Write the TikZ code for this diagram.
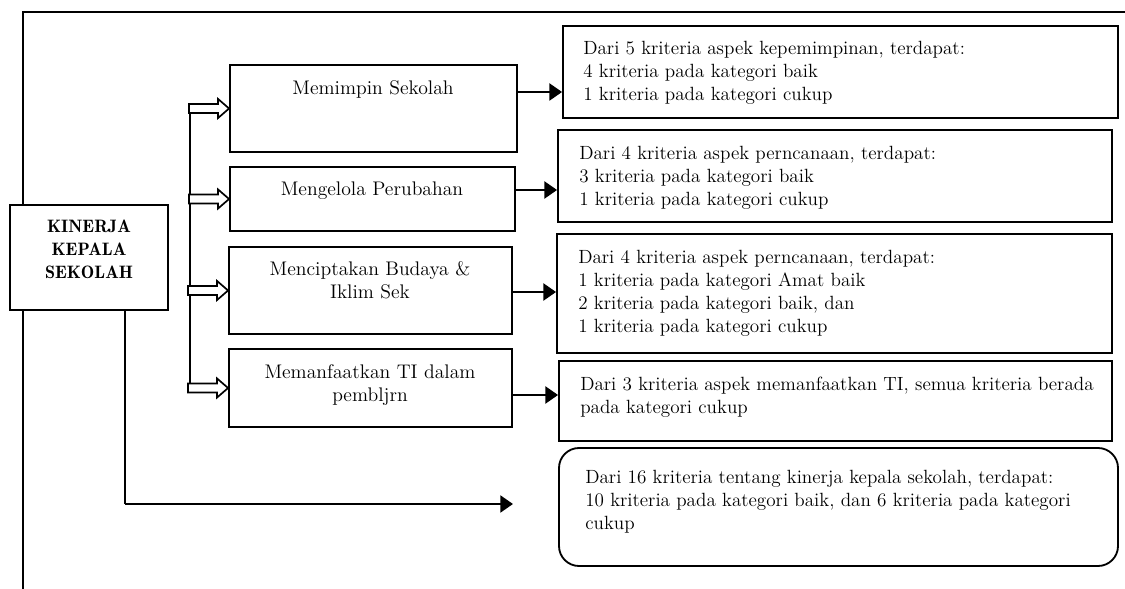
\documentclass[tikz,border=0pt]{standalone}
\usetikzlibrary{arrows.meta,fit}

\begin{document}
\begin{tikzpicture}[x=0.025cm, y=-0.025cm,
        box/.style={draw, line width=1.3pt, inner sep=0pt},
        rbox/.style={box, rounded corners=0.5cm},
        txt/.style={inner sep=0pt, align=left, font=\fontsize{13.6}{16.3}\selectfont},
        ctxt/.style={inner sep=0pt, align=center, font=\fontsize{14}{16.5}\selectfont},
        conn/.style={line width=1.7pt, -{Triangle[length=9pt, width=12pt]}},
        hollow/.style={line width=1.2pt, fill=white}]
        \useasboundingbox (0,0) rectangle (1125,589);

        % Main box
        \node[box, fit={(10,205) (168,310)}] (k) {};
        \node[ctxt, anchor=north, font=\fontseries{b}\fontsize{12.8}{16.3}\selectfont] at (89,220) {KINERJA\\KEPALA\\SEKOLAH};

        % Frame
        \coordinate (fl) at (23,12);
        \draw[line width=1.3pt] (k.north -| fl) -- (fl) -- (1125,12);
        \draw[line width=1.3pt] (k.south -| fl) -- (23,589);

        % Aspects
        \node[box, fit={(230,65) (517,152)}] (l1) {};
        \node[ctxt, anchor=north] at (373,80) {Memimpin Sekolah};
        \node[box, fit={(230,167) (515,231)}] (l2) {};
        \node[ctxt, anchor=north] at (372,182) {Mengelola Perubahan};
        \node[box, fit={(229,247) (512,334)}] (l3) {};
        \node[ctxt, anchor=north] at (370,261) {Menciptakan Budaya \&\\Iklim Sek};
        \node[box, fit={(229,349) (512,427)}] (l4) {};
        \node[ctxt, anchor=north] at (370,364) {Memanfaatkan TI dalam\\pembljrn};

        % Results
        \node[box, fit={(563,26) (1118,118)}] (r1) {};
        \node[txt, anchor=north west] at (583,41) {Dari 5 kriteria aspek kepemimpinan, terdapat:\\4 kriteria pada kategori baik\\1 kriteria pada kategori cukup};
        \node[box, fit={(558,130) (1112,222)}] (r2) {};
        \node[txt, anchor=north west] at (579,146) {Dari 4 kriteria aspek perncanaan, terdapat:\\3 kriteria pada kategori baik\\1 kriteria pada kategori cukup};
        \node[box, fit={(557,234) (1112,353)}] (r3) {};
        \node[txt, anchor=north west] at (578,250) {Dari 4 kriteria aspek perncanaan, terdapat:\\1 kriteria pada kategori Amat baik\\2 kriteria pada kategori baik, dan\\1 kriteria pada kategori cukup};
        \node[box, fit={(559,361) (1112,441)}] (r4) {};
        \node[txt, anchor=north west] at (580,377) {Dari 3 kriteria aspek memanfaatkan TI, semua kriteria berada\\pada kategori cukup};
        \node[rbox, fit={(559,448) (1118,566)}] (r5) {};
        \node[txt, anchor=north west] at (585,470) {Dari 16 kriteria tentang kinerja kepala sekolah, terdapat:\\10 kriteria pada kategori baik, dan 6 kriteria pada kategori\\cukup};

        % Bracket with hollow arrows
        \coordinate (bt) at (190,108);
        \coordinate (bb) at (190,387);
        \draw[line width=1.3pt] (bt) -- (bb);
        \foreach \n in {l1,l2,l3,l4}
            \draw[hollow] (\n.west) -- ++(-11,-9.5) -- ++(0,5) -- ++(-29,0) -- ++(0,9) -- ++(29,0) -- ++(0,5) -- cycle;

        % Arrows to results
        \coordinate (a1) at (0,92);
        \coordinate (a2) at (0,190);
        \coordinate (a3) at (0,292);
        \coordinate (a4) at (0,395);
        \draw[conn] (a1 -| l1.east) -- (a1 -| r1.west);
        \draw[conn] (a2 -| l2.east) -- (a2 -| r2.west);
        \draw[conn] (a3 -| l3.east) -- (a3 -| r3.west);
        \draw[conn] (a4 -| l4.east) -- (a4 -| r4.west);

        % Summary arrow
        \coordinate (kb) at (125,504);
        \coordinate (ke) at (513,504);
        \draw[line width=1.3pt] (kb |- k.south) -- (kb);
        \draw[conn] (kb) -- (ke);

    \end{tikzpicture}
\end{document}
